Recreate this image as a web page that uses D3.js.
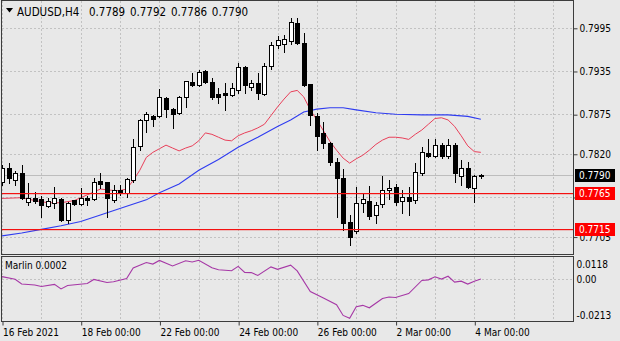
<!DOCTYPE html>
<html>
<head>
<meta charset="utf-8">
<script src="https://cdn.jsdelivr.net/npm/d3@7"></script>
<style>
  html, body { margin: 0; padding: 0; background: #e8e8e8; }
  svg { display: block; }
  text { font-family: "DejaVu Sans Condensed", "Liberation Sans", sans-serif; font-size: 10px; }
</style>
</head>
<body>
<svg id="chart" width="620" height="341"></svg>
<script>
// ---- AUDUSD H4 bars, 16 Feb 2021 00:00 onwards (index = bar number) ----
const symbol = "AUDUSD,H4";
const opens  = [0.7781,0.7800,0.7783,0.7793,0.7753,0.7758,0.7757,0.7747,0.7752,0.7757,
                0.7728,0.7756,0.7750,0.7758,0.7757,0.7782,0.7781,0.7756,0.7770,0.7765,
                0.7783,0.7831,0.7867,0.7872,0.7872,0.7897,0.7882,0.7877,0.7899,0.7920,
                0.7915,0.7935,0.7920,0.7903,0.7904,0.7902,0.7908,0.7940,0.7913,0.7918,
                0.7903,0.7942,0.7971,0.7972,0.7976,0.8002,0.7974,0.7917,0.7872,0.7849,
                0.7835,0.7808,0.7786,0.7725,0.7713,0.7752,0.7754,0.7735,0.7750,0.7770,
                0.7774,0.7754,0.7760,0.7756,0.7793,0.7821,0.7817,0.7832,0.7817,0.7832,
                0.7789,0.7800,0.7772,0.7789];
const highs  = [0.7804,0.7807,0.7796,0.7804,0.7779,0.7767,0.7761,0.7758,0.7774,0.7758,
                0.7753,0.7756,0.7772,0.7761,0.7786,0.7793,0.7781,0.7777,0.7777,0.7786,
                0.7840,0.7868,0.7878,0.7874,0.7910,0.7899,0.7884,0.7900,0.7921,0.7932,
                0.7936,0.7936,0.7925,0.7911,0.7918,0.7918,0.7946,0.7942,0.7922,0.7932,
                0.7946,0.7975,0.7983,0.7985,0.8009,0.8009,0.7988,0.7917,0.7877,0.7864,
                0.7837,0.7814,0.7799,0.7735,0.7774,0.7765,0.7775,0.7753,0.7789,0.7783,
                0.7778,0.7770,0.7774,0.7807,0.7829,0.7840,0.7840,0.7835,0.7840,0.7835,
                0.7811,0.7808,0.7790,0.7792];
const lows   = [0.7777,0.7779,0.7777,0.7757,0.7749,0.7752,0.7732,0.7746,0.7745,0.7727,
                0.7724,0.7749,0.7749,0.7749,0.7756,0.7772,0.7732,0.7753,0.7763,0.7760,
                0.7781,0.7825,0.7850,0.7859,0.7871,0.7871,0.7856,0.7875,0.7885,0.7914,
                0.7914,0.7918,0.7896,0.7890,0.7881,0.7900,0.7905,0.7904,0.7908,0.7896,
                0.7902,0.7938,0.7967,0.7962,0.7972,0.7972,0.7914,0.7860,0.7825,0.7828,
                0.7805,0.7732,0.7714,0.7693,0.7710,0.7739,0.7730,0.7724,0.7746,0.7757,
                0.7749,0.7738,0.7735,0.7752,0.7790,0.7815,0.7815,0.7814,0.7814,0.7781,
                0.7777,0.7772,0.7753,0.7786];
const closes = [0.7800,0.7786,0.7793,0.7758,0.7758,0.7754,0.7749,0.7754,0.7758,0.7728,
                0.7751,0.7750,0.7758,0.7756,0.7781,0.7778,0.7759,0.7770,0.7767,0.7785,
                0.7829,0.7867,0.7875,0.7868,0.7899,0.7882,0.7875,0.7899,0.7921,0.7915,
                0.7934,0.7920,0.7899,0.7899,0.7902,0.7911,0.7940,0.7915,0.7918,0.7904,
                0.7942,0.7971,0.7978,0.7980,0.8003,0.7974,0.7915,0.7874,0.7845,0.7835,
                0.7808,0.7786,0.7724,0.7704,0.7752,0.7757,0.7733,0.7749,0.7770,0.7772,
                0.7753,0.7760,0.7754,0.7795,0.7822,0.7817,0.7832,0.7817,0.7832,0.7793,
                0.7800,0.7774,0.7789,0.7790];

// ---- moving averages (bar index, price) ----
const fastMaBars   = [0,3,5,7,9,11,13,15,17,18,19,20,21,22,23,24,25,26,27,28,29,30,31,32,33,34,35,36,37,38,39,40,
                      41,42,43,44,45,46,47,48,49,50,51,52,53,54,55,56,57,58,59,60,61,62,63,64,65,66,67,68,69,70,71,72,73];
const fastMaValues = [0.7758,0.7759,0.7755,0.7752,0.7752,0.7755,0.7763,0.7771,0.7769,0.7769,0.7771,0.7783,0.7797,0.7815,
                      0.7822,0.7827,0.7832,0.7828,0.7824,0.7828,0.7831,0.7838,0.7849,0.7847,0.7843,0.7839,0.7838,0.7845,
                      0.7849,0.7852,0.7856,0.7861,0.7873,0.7885,0.7896,0.7906,0.7908,0.7899,0.7881,0.7867,0.7852,0.7837,
                      0.7825,0.7814,0.7807,0.7813,0.7818,0.7825,0.7833,0.7839,0.7843,0.7843,0.7842,0.7840,0.7847,0.7853,
                      0.7861,0.7869,0.7870,0.7867,0.7858,0.7845,0.7831,0.7823,0.7822];
const slowMaBars   = [0,3,6,9,12,15,19,22,24,27,30,33,36,39,42,44,46,48,50,52,54,57,60,64,68,71,73];
const slowMaValues = [0.7706,0.7710,0.7715,0.7720,0.7726,0.7735,0.7747,0.7756,0.7766,0.7778,0.7797,0.7812,0.7829,
                      0.7843,0.7858,0.7867,0.7878,0.7882,0.7884,0.7884,0.7881,0.7877,0.7875,0.7874,0.7874,0.7872,0.7868];

// ---- Marlin oscillator ----
const marlinBars   = [0,2,3,5,6,8,9,10,13,14,16,17,19,20,22,23,24,26,28,29,30,32,33,35,36,37,38,39,41,42,44,45,
                      47,49,51,52,53,54,55,56,58,59,60,62,64,65,66,67,68,69,70,71,72,73];
const marlinValues = [0.0015,0.0001,-0.0024,-0.0029,-0.0037,-0.0026,-0.0050,-0.0032,-0.0021,0.0000,-0.0016,-0.0012,
                      0.0005,0.0060,0.0089,0.0081,0.0100,0.0071,0.0098,0.0092,0.0101,0.0061,0.0051,0.0046,0.0069,
                      0.0037,0.0036,0.0021,0.0066,0.0053,0.0075,0.0045,-0.0063,-0.0097,-0.0133,-0.0189,-0.0204,
                      -0.0143,-0.0136,-0.0149,-0.0100,-0.0092,-0.0095,-0.0074,-0.0005,-0.0002,0.0014,0.0002,0.0017,
                      -0.0014,-0.0009,-0.0024,-0.0009,0.0002];

// ---- horizontal levels and axis ticks ----
const levelPrices = [0.7765, 0.7715];
const priceTicks = [0.7995, 0.7935, 0.7875, 0.7820, 0.7760, 0.7705];
const marlinTicks = [0.0118, 0.00, -0.0213];
const marlinTickLabels = ["0.0118", "0.00", "-0.0213"];
const timeTickBars = [0, 12, 24, 36, 48, 60, 72];
const timeTickLabels = ["16 Feb 2021", "18 Feb 00:00", "22 Feb 00:00", "24 Feb 00:00", "26 Feb 00:00", "2 Mar 00:00", "4 Mar 00:00"];
const gridStepBars = 6; // one gridline per trading day

// ---- layout ----
const W = 620, H = 341;
const left = 2, right = 573;
const mainTop = 1, mainBottom = 254, subTop = 257, subBottom = 321;
const frameColor = "#3c3c3c", gridColor = "#c2c2c2";
const fastColor = "#e8405a", slowColor = "#2f3cf0", levelColor = "#f41010", marlinColor = "#a638a6";

const svg = d3.select("#chart");
svg.append("rect").attr("width", W).attr("height", H).style("fill", "#e8e8e8");

const x = d3.scaleLinear().domain([0, 87]).range([2, 572.7]);
const y = d3.scaleLinear().domain([0.76808, 0.80322]).range([mainBottom, mainTop]);
const ys = d3.scaleLinear().domain([-0.0213, 0.0118]).range([subBottom - 1, subTop]);
const px = v => Math.round(v) + 0.5;

const defs = svg.append("defs");
defs.append("clipPath").attr("id", "clipMain").append("rect")
  .attr("x", left).attr("y", mainTop).attr("width", right - left).attr("height", mainBottom - mainTop);
defs.append("clipPath").attr("id", "clipSub").append("rect")
  .attr("x", left).attr("y", subTop).attr("width", right - left).attr("height", subBottom - subTop);

// ---- grid ----
const gridBars = d3.range(0, 88, gridStepBars);
const grid = svg.append("g").style("stroke", gridColor).attr("stroke-dasharray", "2,2").attr("stroke-width", 1);
[[mainTop, mainBottom], [subTop, subBottom]].forEach(([t, b]) => {
  grid.selectAll(null).data(gridBars).enter().append("line")
    .attr("x1", d => px(x(d))).attr("x2", d => px(x(d)))
    .attr("y1", t).attr("y2", b);
});
grid.selectAll(null).data(priceTicks).enter().append("line")
  .attr("x1", left).attr("x2", right)
  .attr("y1", d => px(y(d))).attr("y2", d => px(y(d)));
grid.append("line").attr("x1", left).attr("x2", right)
  .attr("y1", px(ys(0))).attr("y2", px(ys(0)));

// ---- main panel ----
const main = svg.append("g").attr("clip-path", "url(#clipMain)");
const lastIdx = closes.length - 1;
const bid = closes[lastIdx];

main.append("rect").attr("x", left).attr("width", right - left)
  .attr("y", Math.round(y(bid))).attr("height", 1).style("fill", "#bdbdbd");

const lineGen = yScale => d3.line().x(d => x(d[0])).y(d => yScale(d[1]));
main.append("path")
  .datum(d3.zip(slowMaBars, slowMaValues))
  .attr("d", lineGen(y)).style("fill", "none").style("stroke", slowColor).attr("stroke-width", 1.1);
main.append("path")
  .datum(d3.zip(fastMaBars, fastMaValues))
  .attr("d", lineGen(y)).style("fill", "none").style("stroke", fastColor).attr("stroke-width", 1);

const bars = d3.range(opens.length).map(i => ({ i, o: opens[i], h: highs[i], l: lows[i], c: closes[i] }));
const candle = main.selectAll(".candle").data(bars).enter().append("g").attr("class", "candle");
candle.append("line")
  .attr("x1", d => px(x(d.i))).attr("x2", d => px(x(d.i)))
  .attr("y1", d => Math.round(y(d.h))).attr("y2", d => Math.round(y(d.l)) + 1)
  .style("stroke", "#000");
candle.append("rect")
  .attr("x", d => Math.round(x(d.i)) - 1.5)
  .attr("width", 4)
  .attr("y", d => Math.round(y(Math.max(d.o, d.c))) + 0.5)
  .attr("height", d => Math.max(0, Math.round(y(Math.min(d.o, d.c))) - Math.round(y(Math.max(d.o, d.c)))))
  .style("fill", d => d.c >= d.o ? "#ffffff" : "#000000")
  .style("stroke", "#000").attr("stroke-width", 1);

// horizontal levels drawn over the bars
main.selectAll(".lvl").data(levelPrices).enter().append("rect").attr("class", "lvl")
  .attr("x", left).attr("width", right - left)
  .attr("y", d => Math.round(y(d))).attr("height", 1.2)
  .style("fill", levelColor);

// ---- sub panel (Marlin) ----
const sub = svg.append("g").attr("clip-path", "url(#clipSub)");
sub.append("path")
  .datum(d3.zip(marlinBars, marlinValues))
  .attr("d", lineGen(ys)).style("fill", "none").style("stroke", marlinColor).attr("stroke-width", 1.1);

// ---- frames ----
const frames = svg.append("g").style("fill", "none").style("stroke", frameColor);
frames.append("rect").attr("x", left - 0.5).attr("y", mainTop - 0.5).attr("width", right - left + 1).attr("height", mainBottom - mainTop + 1);
frames.append("rect").attr("x", left - 0.5).attr("y", subTop - 0.5).attr("width", right - left + 1).attr("height", subBottom - subTop + 1);

// ---- price axis (the level marker covers the 0.7760 label, so only its tick is drawn) ----
const coveredTick = p => levelPrices.some(v => Math.abs(y(v) - y(p)) < 5);
const priceAxis = svg.append("g").attr("transform", `translate(${right + 0.5},0.5)`)
  .call(d3.axisRight(y).tickValues(priceTicks).tickSize(4).tickPadding(2)
    .tickFormat(d => coveredTick(d) ? "" : d3.format(".4f")(d)));
priceAxis.select(".domain").remove();
priceAxis.selectAll("line").style("stroke", frameColor);
priceAxis.selectAll("text").attr("font-family", null).attr("font-size", null).style("fill", "#000");

// price markers: bid (black) and levels (red)
const markers = [{ v: bid, fill: "#000000" }].concat(levelPrices.map(v => ({ v, fill: "#ff0000" })));
const mk = svg.append("g").selectAll("g").data(markers).enter().append("g")
  .attr("transform", d => `translate(${right + 2},${Math.round(y(d.v))})`);
mk.append("rect").attr("x", 0).attr("y", -6).attr("width", 40).attr("height", 13).style("fill", d => d.fill);
mk.append("text").attr("x", 4).attr("y", 0).attr("dy", "0.35em").style("fill", "#ffffff").text(d => d.v.toFixed(4));

// ---- Marlin axis ----
const subAxis = svg.append("g").attr("transform", `translate(${right + 0.5},0)`)
  .call(d3.axisRight(ys).tickValues(marlinTicks).tickSize(0).tickPadding(3)
    .tickFormat((d, i) => marlinTickLabels[i]));
subAxis.select(".domain").remove();
subAxis.selectAll("text").attr("font-family", null).attr("font-size", null).style("fill", "#000")
  .attr("dy", (d, i) => i === 0 ? "1.0em" : (i === marlinTicks.length - 1 ? "-0.15em" : "0.32em"));

// ---- time axis ----
const timeAxis = svg.append("g").attr("transform", `translate(0.5,${subBottom + 0.5})`)
  .call(d3.axisBottom(x).tickValues(timeTickBars).tickSize(4).tickPadding(3)
    .tickFormat((d, i) => timeTickLabels[i]));
timeAxis.select(".domain").remove();
timeAxis.selectAll("line").style("stroke", frameColor);
timeAxis.selectAll("text").attr("font-family", null).attr("font-size", null).style("fill", "#000")
  .attr("text-anchor", "start").attr("x", 0);

// ---- captions ----
const fmt4 = d3.format(".4f");
const title = svg.append("g").attr("transform", "translate(5,16)");
title.append("path").attr("d", "M1,-8 L8,-8 L4.5,-3.5 Z").style("fill", "#000");
title.append("text").attr("x", 12).attr("xml:space", "preserve")
  .style("font-size", "11.5px").style("word-spacing", "1.5px").style("fill", "#000")
  .text(`${symbol}  ${fmt4(opens[lastIdx])} ${fmt4(highs[lastIdx])} ${fmt4(lows[lastIdx])} ${fmt4(closes[lastIdx])}`);
svg.append("text").attr("x", 5).attr("y", subTop + 12).style("fill", "#000")
  .text(`Marlin ${fmt4(marlinValues[marlinValues.length - 1])}`);
</script>
</body>
</html>
